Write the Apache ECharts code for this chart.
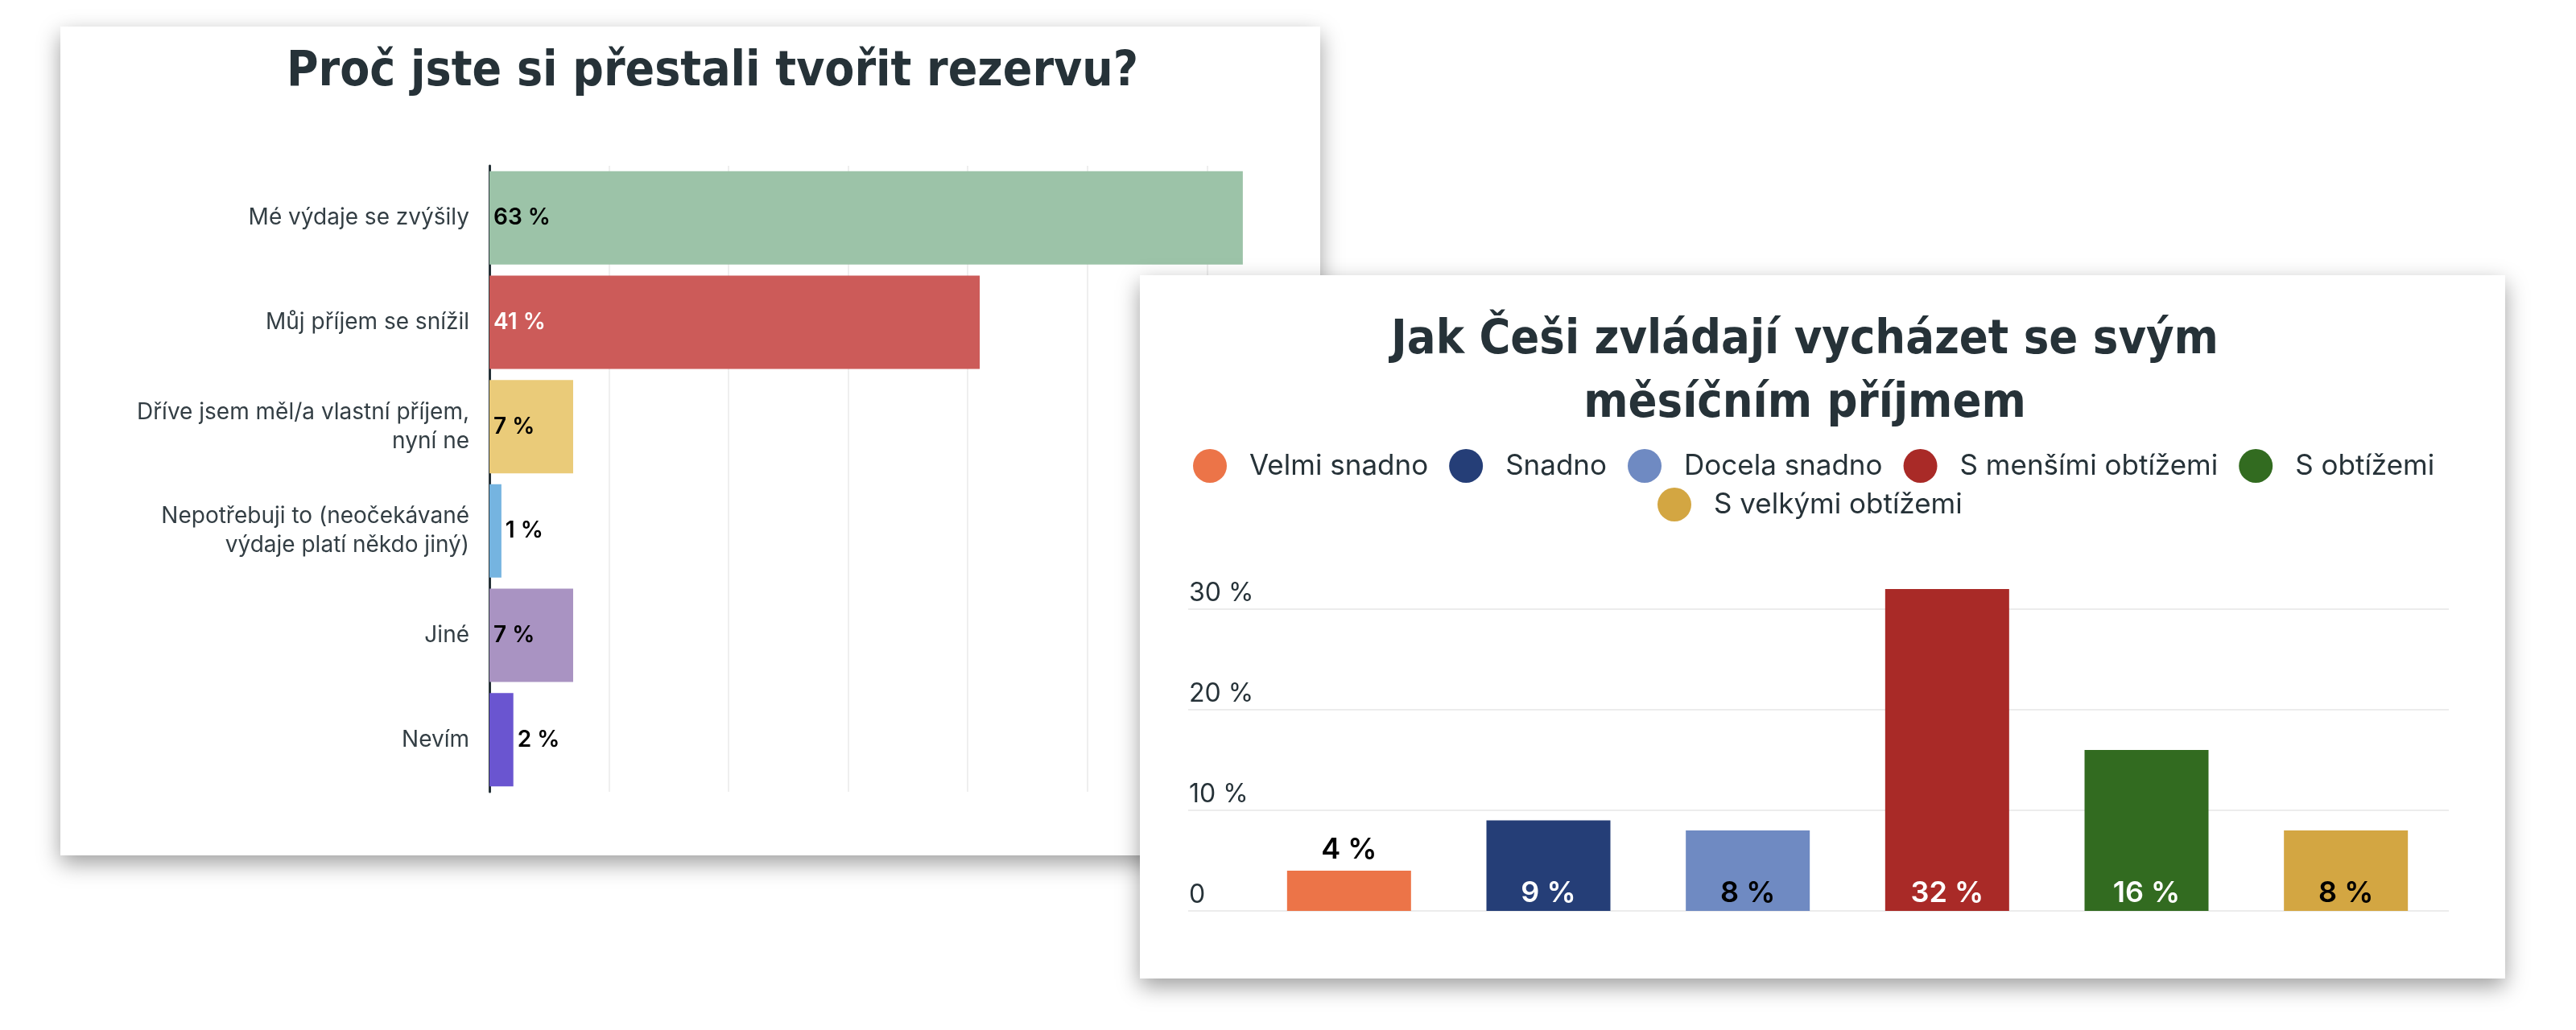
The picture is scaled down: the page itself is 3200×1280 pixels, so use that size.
<!DOCTYPE html>
<html>
<head>
<meta charset="utf-8">
<script src="https://cdn.jsdelivr.net/npm/echarts@6/dist/echarts.min.js"></script>
<style>
  html, body { margin: 0; padding: 0; background: #ffffff; }
  #chart { width: 3200px; height: 1280px; }
</style>
</head>
<body>
<div id="chart"></div>
<script>
// ---------- Data: left chart ----------
const leftTitle = 'Proč jste si přestali tvořit rezervu?';
const leftCategories = [
  'Mé výdaje se zvýšily',
  'Můj příjem se snížil',
  'Dříve jsem měl/a vlastní příjem,\nnyní ne',
  'Nepotřebuji to (neočekávané\nvýdaje platí někdo jiný)',
  'Jiné',
  'Nevím'
];
const leftValues = [63, 41, 7, 1, 7, 2];

// ---------- Data: right chart ----------
const rightTitle = 'Jak Češi zvládají vycházet se svým\nměsíčním příjmem';
const rightCategories = ['Velmi snadno', 'Snadno', 'Docela snadno', 'S menšími obtížemi', 'S obtížemi', 'S velkými obtížemi'];
const rightValues = [4, 9, 8, 32, 16, 8];
const rightTicks = [0, 10, 20, 30];

// ---------- Styles ----------
const leftColors = ['#9cc3a8', '#cc5b59', '#eacb79', '#75b4e0', '#a993c2', '#6a55d0'];
const leftLabelColors = ['#000000', '#ffffff', '#000000', '#000000', '#000000', '#000000'];
const rightColors = ['#ec7448', '#253e77', '#6f8ac2', '#a92a27', '#326b20', '#d3a642'];
const rightLabelColors = ['#000000', '#ffffff', '#000000', '#ffffff', '#ffffff', '#000000'];

const titleFont = '"Liberation Sans Narrow", "DejaVu Sans Condensed", "Roboto", sans-serif';
const textFont = 'Inter, "Noto Sans", sans-serif';
const ink = '#263238';

const chart = echarts.init(document.getElementById('chart'), null, { renderer: 'canvas' });

const leftData = leftValues.map((v, i) => ({
  value: v,
  itemStyle: { color: leftColors[i] },
  label: {
    position: v < 5 ? 'right' : 'insideLeft',
    color: leftLabelColors[i]
  }
}));

const rightSeries = rightCategories.map((name, i) => ({
  name: name,
  type: 'bar',
  xAxisIndex: 2,
  yAxisIndex: 2,
  stack: 'r',
  barWidth: 154,
  z: 5,
  itemStyle: { color: rightColors[i] },
  label: {
    show: true,
    position: rightValues[i] < 5 ? 'top' : 'insideBottom',
    distance: rightValues[i] < 5 ? 8 : 4,
    color: rightLabelColors[i],
    fontFamily: textFont,
    fontSize: 36,
    fontWeight: 600,
    formatter: p => p.value + ' %'
  },
  data: rightCategories.map((c, j) => (j === i ? rightValues[i] : '-'))
}));

const legendItem = {
  orient: 'horizontal',
  icon: 'circle',
  padding: 0,
  itemWidth: 42,
  itemHeight: 42,
  itemGap: 26,
  z: 6,
  textStyle: { fontFamily: textFont, fontSize: 35, color: ink, padding: [0, 0, 0, 23] }
};

const option = {
  backgroundColor: '#ffffff',
  animation: false,
  graphic: [
    {
      type: 'rect', z: 0, silent: true,
      shape: { x: 75, y: 33, width: 1565, height: 1030 },
      style: { fill: '#ffffff', shadowBlur: 26, shadowOffsetY: 10, shadowColor: 'rgba(0,0,0,0.38)' }
    },
    {
      type: 'rect', z: 3, silent: true,
      shape: { x: 1416, y: 342, width: 1696, height: 874 },
      style: { fill: '#ffffff', shadowBlur: 26, shadowOffsetY: 10, shadowColor: 'rgba(0,0,0,0.38)' }
    }
  ],
  title: [
    {
      text: leftTitle, left: 880, top: 46, textAlign: 'center', z: 2,
      textStyle: { fontFamily: titleFont, fontWeight: 'bold', fontSize: 60, lineHeight: 79, color: ink }
    },
    {
      text: rightTitle, left: 2237, top: 379, textAlign: 'center', z: 6,
      textStyle: { fontFamily: titleFont, fontWeight: 'bold', fontSize: 59, lineHeight: 79, color: ink }
    }
  ],
  legend: [
    Object.assign({}, legendItem, { left: 1482, top: 558, data: rightCategories.slice(0, 5) }),
    Object.assign({}, legendItem, { left: 2059, top: 606, data: rightCategories.slice(5) })
  ],
  grid: [
    { left: 608, top: 206, width: 1025, height: 778 },
    { left: 1476, top: 694.5, width: 1566, height: 437.5 },
    { left: 1552, top: 694.5, width: 1486, height: 437.5 }
  ],
  xAxis: [
    {
      gridIndex: 0, type: 'value', min: 0, max: 69, interval: 10, z: 1,
      axisLabel: { show: false }, axisLine: { show: false }, axisTick: { show: false },
      splitLine: { show: true, showMinLine: false, showMaxLine: false, lineStyle: { color: '#efefef', width: 2 } }
    },
    { gridIndex: 1, type: 'value', show: false, z: 4 },
    { gridIndex: 2, type: 'category', data: rightCategories, show: false, z: 4 }
  ],
  yAxis: [
    {
      gridIndex: 0, type: 'category', inverse: true, data: leftCategories, z: 1,
      axisLine: { show: true, lineStyle: { color: ink, width: 3 } },
      axisTick: { show: false },
      axisLabel: { margin: 25, fontFamily: textFont, fontSize: 28, lineHeight: 36, color: '#333e44', align: 'right' }
    },
    {
      gridIndex: 1, type: 'value', min: 0, max: 35, interval: 10, z: 4,
      axisLine: { show: false }, axisTick: { show: false },
      axisLabel: {
        inside: true, margin: 1, align: 'left', verticalAlign: 'bottom', padding: [0, 0, 4, 0],
        fontFamily: textFont, fontSize: 32, color: ink, showMaxLabel: false,
        formatter: v => (rightTicks.indexOf(v) < 0 ? '' : (v === 0 ? '0' : v + ' %'))
      },
      splitLine: { show: true, showMaxLine: false, lineStyle: { color: '#ececec', width: 2 } }
    },
    { gridIndex: 2, type: 'value', min: 0, max: 35, show: false, z: 4 }
  ],
  series: [
    {
      name: 'left', type: 'bar', xAxisIndex: 0, yAxisIndex: 0, barWidth: 116, z: 2,
      label: {
        show: true, distance: 5, fontFamily: textFont, fontSize: 28, fontWeight: 600,
        formatter: p => p.value + ' %'
      },
      data: leftData
    }
  ].concat(rightSeries)
};

chart.setOption(option);
</script>
</body>
</html>
